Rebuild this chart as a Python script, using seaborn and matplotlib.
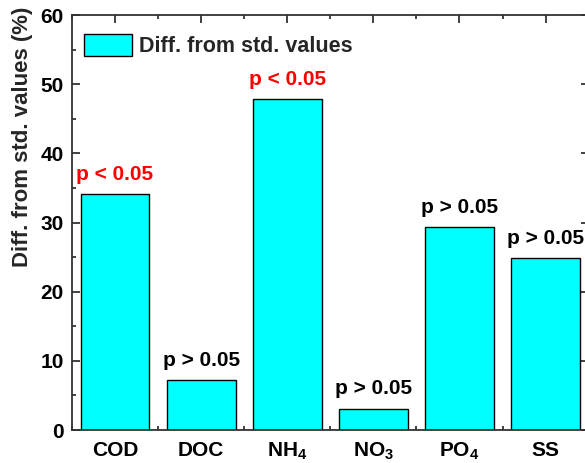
import matplotlib
matplotlib.use("Agg")
import matplotlib.pyplot as plt
from matplotlib.ticker import MultipleLocator, FixedLocator
import seaborn as sns
import pandas as pd

# Measured parameters and their deviation from standard values
categories = ["COD", "DOC", r"NH$_\mathbf{4}$", r"NO$_\mathbf{3}$", r"PO$_\mathbf{4}$", "SS"]
diff_values = [34.1, 7.2, 47.8, 3.1, 29.3, 24.8]
p_labels = ["p < 0.05", "p > 0.05", "p < 0.05", "p > 0.05", "p > 0.05", "p > 0.05"]
p_colors = ["red", "black", "red", "black", "black", "black"]

sns.set_theme(style="ticks")
plt.rcParams["font.family"] = ["Liberation Sans", "DejaVu Sans"]
plt.rcParams["font.weight"] = "bold"
plt.rcParams["mathtext.fontset"] = "custom"
plt.rcParams["mathtext.rm"] = "Liberation Sans:bold"
plt.rcParams["mathtext.bf"] = "Liberation Sans:bold"
plt.rcParams["mathtext.it"] = "Liberation Sans:bold"

df = pd.DataFrame({"param": categories, "diff": diff_values})

fig = plt.figure(figsize=(5.85, 4.63), dpi=100)
ax = fig.add_axes([72 / 585, 1 - 430 / 463, (588.6 - 72) / 585, (430 - 15) / 463])

sns.barplot(data=df, x="param", y="diff", color="#00FFFF", saturation=1,
            edgecolor="black", linewidth=1.0, width=0.8,
            label="Diff. from std. values", ax=ax)

for i, (v, txt, c) in enumerate(zip(diff_values, p_labels, p_colors)):
    ax.annotate(txt, xy=(i, v), xytext=(0, 7.5), textcoords="offset points",
                ha="center", va="bottom", color=c, fontsize=15, fontweight="bold")

ax.set_xlim(-0.5, 5.5)
ax.set_ylim(0, 60)
ax.yaxis.set_major_locator(MultipleLocator(10))
ax.yaxis.set_minor_locator(MultipleLocator(5))
ax.xaxis.set_minor_locator(FixedLocator([i + 0.5 for i in range(-1, 6)]))

ax.set_xlabel("")
ax.set_ylabel("Diff. from std. values (%)", fontsize=16, fontweight="bold")
ax.yaxis.set_label_coords(-0.0755, 0.706)

ax.tick_params(which="both", direction="in", top=True, right=True, colors="#222222",
               labelcolor="black")
ax.tick_params(which="major", length=6, width=1.2, labelsize=15)
ax.tick_params(axis="y", which="major", pad=6)
ax.tick_params(axis="x", which="major", pad=8)
ax.tick_params(which="minor", length=3, width=1.2)
for lbl in ax.get_xticklabels() + ax.get_yticklabels():
    lbl.set_fontweight("bold")

for sp in ax.spines.values():
    sp.set_linewidth(1.3)
    sp.set_color("#333333")

ax.legend(loc="upper left", bbox_to_anchor=(8 / 516.6, 1 - 15 / 415), frameon=False,
          handlelength=2.23, handleheight=1.16, handletextpad=0.33,
          borderaxespad=0.0, borderpad=0.2, prop={"weight": "bold", "size": 15.5})

fig.savefig("out.png", dpi=100)
